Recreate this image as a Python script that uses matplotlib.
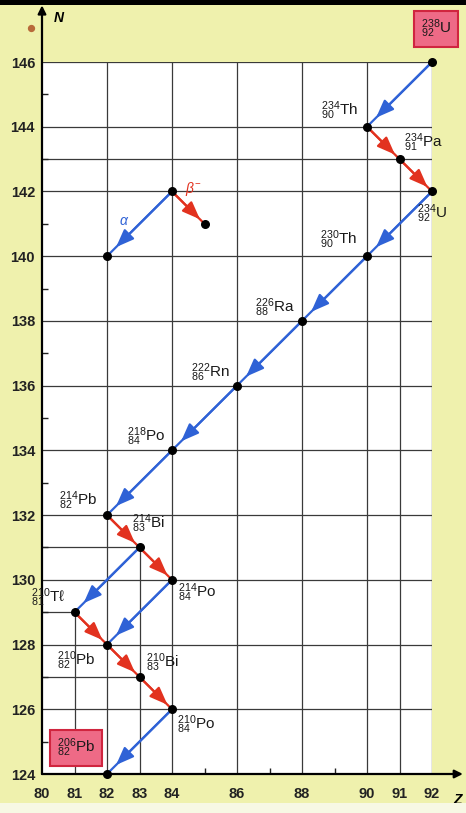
import matplotlib
matplotlib.use('Agg')
import matplotlib.pyplot as plt
from matplotlib.patches import Rectangle

plt.rcParams['font.family'] = ['Liberation Sans', 'DejaVu Sans']
plt.rcParams['mathtext.fontset'] = 'custom'
plt.rcParams['mathtext.rm'] = 'Liberation Sans'
plt.rcParams['mathtext.it'] = 'Liberation Sans:italic'
plt.rcParams['mathtext.bf'] = 'Liberation Sans:bold'

# ---------------- data ----------------
nuclide_symbols = ['U', 'Th', 'Pa', 'U', 'Th', 'Ra', 'Rn', 'Po', 'Pb', 'Bi', 'Po', r'T\ell', 'Pb', 'Bi', 'Po', 'Pb']
nuclide_A = [238, 234, 234, 234, 230, 226, 222, 218, 214, 214, 214, 210, 210, 210, 210, 206]
nuclide_Z = [92, 90, 91, 92, 90, 88, 86, 84, 82, 83, 84, 81, 82, 83, 84, 82]
nuclide_N = [146, 144, 143, 142, 140, 138, 136, 134, 132, 131, 130, 129, 128, 127, 126, 124]

alpha_from = [0, 3, 4, 5, 6, 7, 9, 10, 14]
alpha_to = [1, 4, 5, 6, 7, 8, 11, 12, 15]
beta_from = [1, 2, 8, 9, 11, 12, 13]
beta_to = [2, 3, 9, 10, 12, 13, 14]

legend_parent = (84, 142)
legend_alpha_daughter = (82, 140)
legend_beta_daughter = (85, 141)

x_ticks = [80, 81, 82, 83, 84, 86, 88, 90, 91, 92]
y_ticks = [124, 126, 128, 130, 132, 134, 136, 138, 140, 142, 144, 146]

# ---------------- style ----------------
BG = '#eff1ad'
BLUE = '#2f62d6'
RED = '#e2321f'
GRID = '#3a3a3a'

fig = plt.figure(figsize=(4.66, 8.13), dpi=100, facecolor=BG)
ax = fig.add_axes([42 / 466, 39 / 813, 390 / 466, 712 / 813])
ax.set_facecolor('white')
ax.set_xlim(80, 92)
ax.set_ylim(124, 146)
for s in ax.spines.values():
    s.set_visible(False)

# grid lines
for n in range(124, 147, 2):
    ax.hlines(n, 80, 92, color=GRID, lw=0.9, zorder=1)
ax.hlines(143, 80, 92, color=GRID, lw=0.9, zorder=1)
ax.hlines(131, 80, 83, color=GRID, lw=0.9, zorder=1)
ax.hlines(129, 80, 81, color=GRID, lw=0.9, zorder=1)
ax.hlines(127, 80, 83, color=GRID, lw=0.9, zorder=1)
for z in [82, 84, 86, 88, 90, 92]:
    ax.vlines(z, 124, 146, color=GRID, lw=0.9, zorder=1)
ax.vlines(81, 124, 129, color=GRID, lw=0.9, zorder=1)
ax.vlines(83, 124, 131, color=GRID, lw=0.9, zorder=1)
ax.vlines(91, 124, 143, color=GRID, lw=0.9, zorder=1)

# ticks
ax.set_xticks(x_ticks)
ax.set_xticklabels([str(v) for v in x_ticks], fontsize=10.5, fontweight='bold', color='#222222')
ax.set_yticks(y_ticks)
ax.set_yticklabels([str(v) for v in y_ticks], fontsize=10.5, fontweight='bold', color='#222222')
ax.set_xticks([85, 87, 89], minor=True)
ax.set_yticks([125, 127, 129, 131, 133, 135, 137, 139, 141, 143, 145], minor=True)
ax.tick_params(axis='both', which='major', length=0, pad=5)
ax.tick_params(axis='x', which='major', pad=9)
ax.tick_params(axis='both', which='minor', direction='in', length=4, width=1, color='#222222')

# axes arrows
ax.annotate('', xy=(80, 147.75), xytext=(80, 124), annotation_clip=False,
            arrowprops=dict(arrowstyle='-|>', lw=1.6, color='black', mutation_scale=12,
                            shrinkA=0, shrinkB=0))
ax.annotate('', xy=(92.95, 124), xytext=(80, 124), annotation_clip=False,
            arrowprops=dict(arrowstyle='-|>', lw=1.6, color='black', mutation_scale=12,
                            shrinkA=0, shrinkB=0))
ax.text(80.5, 147.35, 'N', fontsize=10, fontweight='bold', fontstyle='italic', ha='center', va='center',
        clip_on=False)
ax.text(92.8, 123.2, 'Z', fontsize=10, fontweight='bold', fontstyle='italic', ha='center', va='center',
        clip_on=False)


def decay_arrow(p0, p1, color):
    ax.plot([p0[0], p1[0]], [p0[1], p1[1]], color=color, lw=1.6, zorder=3, solid_capstyle='butt')
    f = 0.86
    tip = (p0[0] + f * (p1[0] - p0[0]), p0[1] + f * (p1[1] - p0[1]))
    ax.annotate('', xy=tip, xytext=p0,
                arrowprops=dict(arrowstyle='-|>,head_length=0.9,head_width=0.35', lw=1.6, color=color,
                                mutation_scale=12, shrinkA=0, shrinkB=0), zorder=4)


for i, j in zip(alpha_from, alpha_to):
    decay_arrow((nuclide_Z[i], nuclide_N[i]), (nuclide_Z[j], nuclide_N[j]), BLUE)
for i, j in zip(beta_from, beta_to):
    decay_arrow((nuclide_Z[i], nuclide_N[i]), (nuclide_Z[j], nuclide_N[j]), RED)

# legend example
decay_arrow(legend_parent, legend_alpha_daughter, BLUE)
decay_arrow(legend_parent, legend_beta_daughter, RED)
ax.scatter([legend_parent[0], legend_alpha_daughter[0], legend_beta_daughter[0]],
           [legend_parent[1], legend_alpha_daughter[1], legend_beta_daughter[1]],
           s=30, color='black', zorder=6)
ax.annotate(r'$\alpha$', xy=legend_parent, xytext=(-48, -30), textcoords='offset pixels',
            color=BLUE, fontsize=10, fontweight='bold', ha='center', va='center')
ax.annotate(r'$\beta^{-}$', xy=legend_parent, xytext=(21, 2), textcoords='offset pixels',
            color=RED, fontsize=10, fontweight='bold', ha='center', va='center')

# nuclide points
ax.scatter(nuclide_Z, nuclide_N, s=30, color='black', zorder=6, clip_on=False)


def nlabel(i):
    return r'${}^{%d}_{%d}\mathrm{%s}$' % (nuclide_A[i], nuclide_Z[i], nuclide_symbols[i])


# label placement: (index, dx px, dy px, ha)
label_layout = [
    (1, -9, 16, 'right'),
    (2, 5, 16, 'left'),
    (3, 0, -22, 'center'),
    (4, -10, 16, 'right'),
    (5, -7, 13, 'right'),
    (6, -7, 13, 'right'),
    (7, -7, 14, 'right'),
    (8, -10, 14, 'right'),
    (9, -7, 24, 'left'),
    (10, 6, -13, 'left'),
    (11, -9, 14, 'right'),
    (12, -12, -16, 'right'),
    (13, 7, 14, 'left'),
    (14, 5, -15, 'left'),
]
for i, dx, dy, ha in label_layout:
    ax.annotate(nlabel(i), xy=(nuclide_Z[i], nuclide_N[i]), xytext=(dx, dy), textcoords='offset pixels',
                fontsize=11, ha=ha, va='center', color='#1a1a1a', zorder=7, annotation_clip=False)

box_style = dict(boxstyle='square,pad=0.45', facecolor='#ee6a86', edgecolor='#d0253f', lw=1.5)
fig.text(436 / 466, 1 - 29 / 813, nlabel(0), fontsize=11, ha='center', va='center',
         color='#1a1a1a', bbox=box_style)
ax.text(81.05, 124.8, nlabel(15), fontsize=11, ha='center', va='center', color='#1a1a1a',
        bbox=box_style, zorder=8)

# scan artefacts: top black band, small dot
fig.patches.append(Rectangle((0, 1 - 5 / 813), 1, 5 / 813, transform=fig.transFigure,
                             facecolor='black', edgecolor='none'))
fig.patches.append(Rectangle((0, 0), 1, 10 / 813, transform=fig.transFigure,
                             facecolor='#f7f8e4', edgecolor='none'))
ax.scatter([79.65], [147.05], s=18, color='#b86a3a', clip_on=False, zorder=5)

fig.savefig('out.png', dpi=100, facecolor=BG)
